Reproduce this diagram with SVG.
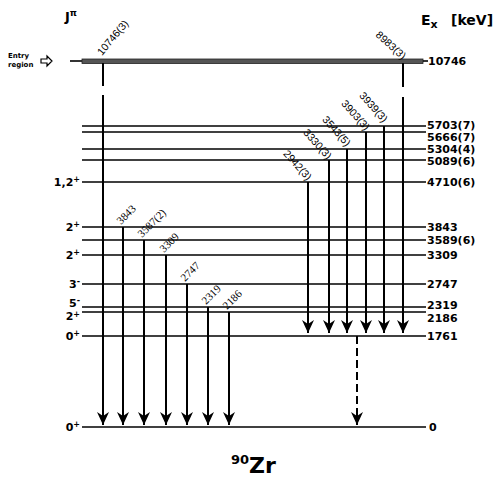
<svg xmlns="http://www.w3.org/2000/svg" width="498" height="480" viewBox="0 0 498 480">
<defs>
<marker id="ah" markerUnits="userSpaceOnUse" markerWidth="12" markerHeight="14" refX="6" refY="13" orient="0" viewBox="0 0 12 14">
<path d="M0,0 L6,4 L12,0 L6,13 Z" fill="#000"/>
</marker>
<style>
.lv{stroke:#000;stroke-width:1.6;fill:none}
.tr{stroke:#000;stroke-width:2;fill:none;marker-end:url(#ah)}
.el{font-family:"DejaVu Sans",sans-serif;font-weight:bold;font-size:11px;fill:#000}
.jp{font-family:"DejaVu Sans",sans-serif;font-weight:bold;font-size:11px;fill:#000;text-anchor:end}
.gl{font-family:"Liberation Serif",serif;font-size:11px;fill:#000}
.gr{font-family:"Liberation Sans",sans-serif;font-size:10.5px;fill:#000}
</style>
</defs>
<rect width="498" height="480" fill="#fff"/>
<text x="65" y="21" font-family="DejaVu Sans,sans-serif" font-weight="bold" font-size="13">J<tspan font-size="9" dy="-5">π</tspan></text>
<text x="421" y="25" font-family="DejaVu Sans,sans-serif" font-weight="bold" font-size="14">E<tspan font-size="11" dy="3">x</tspan><tspan dy="-3" x="451">[keV]</tspan></text>
<g id="entry">
<text x="8" y="58" font-family="DejaVu Sans,sans-serif" font-weight="bold" font-size="7">Entry</text>
<text x="8" y="67" font-family="DejaVu Sans,sans-serif" font-weight="bold" font-size="7">region</text>
<path d="M41,59 h6 v-3 l5,5 l-5,5 v-3 h-6 Z" fill="none" stroke="#000" stroke-width="1.2"/>
</g>
<g id="levels">
<g id="l10746"><line x1="70" y1="61" x2="84" y2="61" class="lv"/><rect x="82" y="59" width="341" height="4.5" fill="#555" stroke="#222" stroke-width="0.8"/><text class="el" x="428" y="65">10746</text><line x1="423" y1="61" x2="428" y2="61" class="lv"/></g>
<g id="l5703"><line x1="82" y1="126" x2="426" y2="126" class="lv"/><text class="el" x="427" y="129" font-size="10.5">5703(7)</text></g>
<g id="l5666"><line x1="82" y1="132" x2="426" y2="132" class="lv"/><text class="el" x="427" y="141" font-size="10.5">5666(7)</text></g>
<g id="l5304"><line x1="82" y1="149" x2="426" y2="149" class="lv"/><text class="el" x="427" y="153">5304(4)</text></g>
<g id="l5089"><line x1="82" y1="160" x2="426" y2="160" class="lv"/><text class="el" x="427" y="165">5089(6)</text></g>
<g id="l4710"><line x1="82" y1="182" x2="426" y2="182" class="lv"/><text class="el" x="427" y="186">4710(6)</text><text class="jp" x="80" y="186">1,2<tspan font-size="8" dy="-4">+</tspan></text></g>
<g id="l3843"><line x1="82" y1="227" x2="426" y2="227" class="lv"/><text class="el" x="427" y="231">3843</text><text class="jp" x="80" y="231">2<tspan font-size="8" dy="-4">+</tspan></text></g>
<g id="l3589"><line x1="82" y1="240" x2="426" y2="240" class="lv"/><text class="el" x="427" y="244">3589(6)</text></g>
<g id="l3309"><line x1="82" y1="255" x2="426" y2="255" class="lv"/><text class="el" x="427" y="259">3309</text><text class="jp" x="80" y="259">2<tspan font-size="8" dy="-4">+</tspan></text></g>
<g id="l2747"><line x1="82" y1="284" x2="426" y2="284" class="lv"/><text class="el" x="427" y="288">2747</text><text class="jp" x="80" y="288">3<tspan font-size="8" dy="-4">-</tspan></text></g>
<g id="l2319"><line x1="82" y1="307" x2="426" y2="307" class="lv"/><text class="el" x="427" y="309">2319</text><text class="jp" x="80" y="307">5<tspan font-size="8" dy="-4">-</tspan></text></g>
<g id="l2186"><line x1="82" y1="312" x2="426" y2="312" class="lv"/><text class="el" x="427" y="322">2186</text><text class="jp" x="80" y="320">2<tspan font-size="8" dy="-3">+</tspan></text></g>
<g id="l1761"><line x1="82" y1="336" x2="426" y2="336" class="lv"/><text class="el" x="427" y="340">1761</text><text class="jp" x="80" y="340">0<tspan font-size="8" dy="-4">+</tspan></text></g>
<g id="l0"><line x1="82" y1="427" x2="426" y2="427" class="lv"/><text class="el" x="429" y="431">0</text><text class="jp" x="80" y="431">0<tspan font-size="8" dy="-4">+</tspan></text></g>
</g>
<g id="transitions">
<line x1="103" y1="63" x2="103" y2="86" stroke="#000" stroke-width="2"/>
<line x1="103" y1="95" x2="103" y2="425" class="tr"/>
<line x1="123" y1="227" x2="123" y2="425" class="tr"/>
<line x1="144" y1="240" x2="144" y2="425" class="tr"/>
<line x1="166" y1="255" x2="166" y2="425" class="tr"/>
<line x1="187" y1="284" x2="187" y2="425" class="tr"/>
<line x1="208" y1="307" x2="208" y2="425" class="tr"/>
<line x1="229" y1="312" x2="229" y2="425" class="tr"/>
<line x1="308" y1="182" x2="308" y2="333" class="tr"/>
<line x1="329" y1="160" x2="329" y2="333" class="tr"/>
<line x1="347" y1="149" x2="347" y2="333" class="tr"/>
<line x1="366" y1="132" x2="366" y2="333" class="tr"/>
<line x1="384" y1="126" x2="384" y2="333" class="tr"/>
<line x1="403" y1="63" x2="403" y2="87" stroke="#000" stroke-width="2"/>
<line x1="403" y1="97" x2="403" y2="333" class="tr"/>
<line x1="357" y1="336" x2="357" y2="425" class="tr" stroke-dasharray="8,4"/>
</g>
<g id="glabels">
<text class="gr" transform="translate(102,56) rotate(-50)">10746(3)</text>
<text class="gr" transform="translate(402,60) rotate(42)" text-anchor="end">8983(3)</text>
<text class="gr" transform="translate(383,123) rotate(48)" text-anchor="end">3939(3)</text>
<text class="gr" transform="translate(365,131) rotate(48)" text-anchor="end">3903(3)</text>
<text class="gr" transform="translate(346,147) rotate(48)" text-anchor="end">3543(5)</text>
<text class="gr" transform="translate(327,160) rotate(48)" text-anchor="end">3330(3)</text>
<text class="gr" transform="translate(307,181) rotate(48)" text-anchor="end">2942(3)</text>
<text class="gl" transform="translate(121,225) rotate(-45)">3843</text>
<text class="gl" transform="translate(142,238) rotate(-45)">3587(2)</text>
<text class="gl" transform="translate(164,253) rotate(-45)">3309</text>
<text class="gl" transform="translate(185,282) rotate(-45)">2747</text>
<text class="gl" transform="translate(206,305) rotate(-45)">2319</text>
<text class="gl" transform="translate(227,310) rotate(-45)">2186</text>
</g>
<text x="231" y="473" font-family="DejaVu Sans,sans-serif" font-weight="bold" font-size="22"><tspan font-size="13" dy="-9">90</tspan><tspan dy="9">Zr</tspan></text>
</svg>
